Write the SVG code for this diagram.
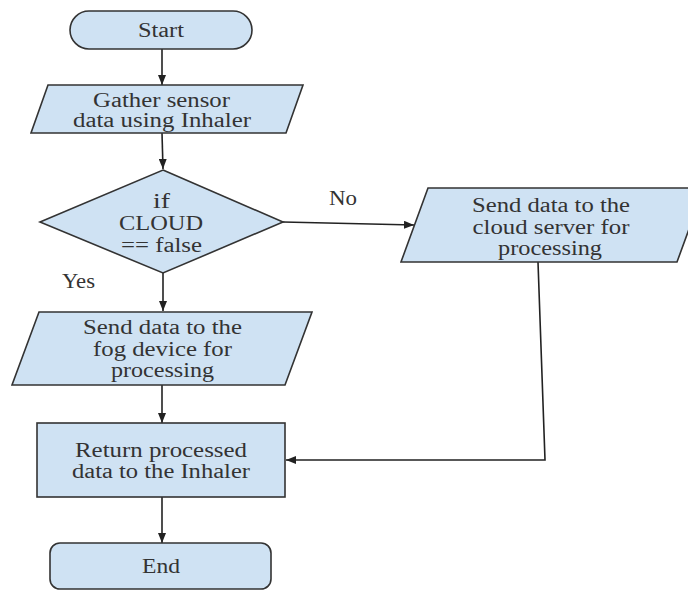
<svg xmlns="http://www.w3.org/2000/svg" width="688" height="592" viewBox="0 0 688 592">
<defs>
<style>
.n{fill:#cfe2f3;stroke:#333;stroke-width:1.6}
.t{font-size:20px;fill:#333;text-anchor:middle}
.c{fill:none;stroke:#222;stroke-width:1.6}
</style>
<marker id="ah" viewBox="0 0 10 8" refX="10" refY="4" markerWidth="10" markerHeight="8" markerUnits="userSpaceOnUse" orient="auto">
<path d="M0,0 L10,4 L0,8 z" fill="#222"/>
</marker>
</defs>
<rect width="688" height="592" fill="#fff"/>
<g font-family="Liberation Serif, DejaVu Serif, serif">
<g id="connectors">
<path class="c" d="M162,49 L162,85" marker-end="url(#ah)"/>
<path class="c" d="M162,133 L163,169" marker-end="url(#ah)"/>
<path class="c" d="M163,273 L163,311" marker-end="url(#ah)"/>
<path class="c" d="M283,222 L414,225" marker-end="url(#ah)"/>
<path class="c" d="M162,385 L162,423" marker-end="url(#ah)"/>
<path class="c" d="M538,262 L545,460 L286,460" marker-end="url(#ah)"/>
<path class="c" d="M162,497 L162,543" marker-end="url(#ah)"/>
<text class="t" x="343" y="205" textLength="28" lengthAdjust="spacingAndGlyphs">No</text>
<text class="t" x="78.5" y="288" textLength="33" lengthAdjust="spacingAndGlyphs">Yes</text>
</g>
<g id="start">
<rect class="n" x="70" y="11" width="182" height="38" rx="19" ry="19"/>
<text class="t" x="161" y="37" textLength="46" lengthAdjust="spacingAndGlyphs">Start</text>
</g>
<g id="gather">
<path class="n" d="M48,85 L303,85 L286,133 L31,133 z"/>
<text class="t" x="161.5" y="107" textLength="137" lengthAdjust="spacingAndGlyphs">Gather sensor</text>
<text class="t" x="162" y="127" textLength="178" lengthAdjust="spacingAndGlyphs">data using Inhaler</text>
</g>
<g id="decision">
<path class="n" d="M163,170 L283,222 L163,273 L40,222 z"/>
<text class="t" x="161.5" y="208" textLength="17" lengthAdjust="spacingAndGlyphs">if</text>
<text class="t" x="161" y="230" textLength="84" lengthAdjust="spacingAndGlyphs">CLOUD</text>
<text class="t" x="161.5" y="252" textLength="81" lengthAdjust="spacingAndGlyphs">== false</text>
</g>
<g id="cloud">
<path class="n" d="M428,188 L704,188 L677,262 L401,262 z"/>
<text class="t" x="551" y="212" textLength="158" lengthAdjust="spacingAndGlyphs">Send data to the</text>
<text class="t" x="551" y="234" textLength="157" lengthAdjust="spacingAndGlyphs">cloud server for</text>
<text class="t" x="550" y="255" textLength="104" lengthAdjust="spacingAndGlyphs">processing</text>
</g>
<g id="fog">
<path class="n" d="M39,312 L312,312 L285,385 L12,385 z"/>
<text class="t" x="162.5" y="334" textLength="159" lengthAdjust="spacingAndGlyphs">Send data to the</text>
<text class="t" x="162.5" y="356" textLength="139" lengthAdjust="spacingAndGlyphs">fog device for</text>
<text class="t" x="162.5" y="377" textLength="103" lengthAdjust="spacingAndGlyphs">processing</text>
</g>
<g id="return">
<rect class="n" x="37" y="423" width="248" height="74"/>
<text class="t" x="161" y="457" textLength="172" lengthAdjust="spacingAndGlyphs">Return processed</text>
<text class="t" x="161" y="478" textLength="178" lengthAdjust="spacingAndGlyphs">data to the Inhaler</text>
</g>
<g id="end">
<rect class="n" x="50" y="543" width="221" height="46" rx="10" ry="10"/>
<text class="t" x="161" y="573" textLength="38" lengthAdjust="spacingAndGlyphs">End</text>
</g>
</g>
</svg>
